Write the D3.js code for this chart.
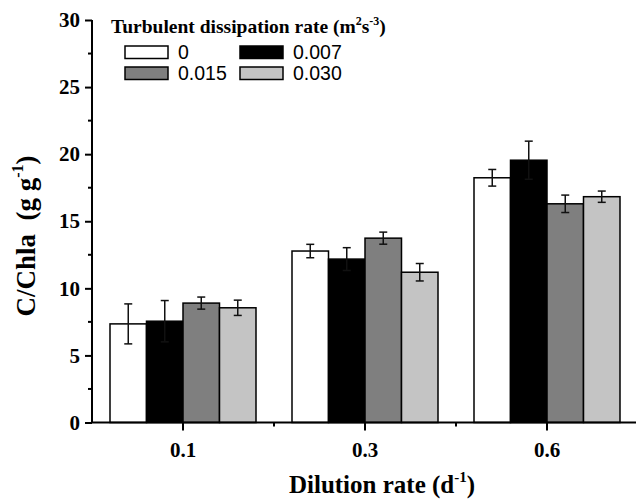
<!DOCTYPE html>
<html><head><meta charset="utf-8">
<script src="https://cdn.jsdelivr.net/npm/d3@7"></script>
<style>body{margin:0;background:#fff}svg{display:block}</style>
</head><body>
<svg id="c" width="636" height="499"></svg>
<script>
const categories = ["0.1", "0.3", "0.6"];
const seriesNames = ["0", "0.007", "0.015", "0.030"];
const values = [
  [7.35, 12.78, 18.24],
  [7.55, 12.18, 19.55],
  [8.9, 13.74, 16.3],
  [8.55, 11.2, 16.83]
];
const errors = [
  [1.49, 0.5, 0.62],
  [1.54, 0.85, 1.42],
  [0.45, 0.45, 0.65],
  [0.57, 0.65, 0.42]
];
const yTicks = [0, 5, 10, 15, 20, 25, 30];
const fills = ["#ffffff", "#000000", "#7f7f7f", "#c4c4c4"];

(function () {
const svg = d3.select("#c");
const mLeft = 92, mRight = 638, mTop = 20, mBottom = 422.5;
const y = d3.scaleLinear().domain([0, 30]).range([mBottom, mTop]);
const x = d3.scaleBand().domain(categories).range([mLeft, mRight]).padding(0);
const inner = d3.scaleBand().domain(d3.range(4)).range([0, 146]);
const off = (x.bandwidth() - 146) / 2;
const serif = "'Liberation Serif','Times New Roman',serif";
const sans = "'Liberation Sans',Arial,sans-serif";

// bars
seriesNames.forEach((s, si) => {
  categories.forEach((c, ci) => {
    const bx = x(c) + off + inner(si);
    const v = values[si][ci], e = errors[si][ci];
    svg.append("rect").attr("x", bx).attr("y", y(v))
      .attr("width", inner.bandwidth()).attr("height", y(0) - y(v))
      .attr("fill", fills[si]).attr("stroke", "#000").attr("stroke-width", 1.5);
    const cx = bx + inner.bandwidth() / 2;
    const g = svg.append("g").attr("stroke", "#111").attr("stroke-width", 1.5);
    g.append("line").attr("x1", cx).attr("x2", cx).attr("y1", y(v + e)).attr("y2", y(v - e));
    g.append("line").attr("x1", cx - 4).attr("x2", cx + 4).attr("y1", y(v + e)).attr("y2", y(v + e));
    g.append("line").attr("x1", cx - 4).attr("x2", cx + 4).attr("y1", y(v - e)).attr("y2", y(v - e));
  });
});

// y axis
const yAxis = svg.append("g").attr("transform", `translate(${mLeft},0)`)
  .call(d3.axisLeft(y).tickValues(yTicks).tickSize(7).tickPadding(5).tickFormat(d3.format("d")));
yAxis.select(".domain").attr("stroke-width", 2).attr("d", `M0,${mTop}V${mBottom}`);
yAxis.selectAll(".tick line").attr("stroke-width", 2);
yAxis.selectAll("text").attr("font-family", serif).attr("font-weight", "bold").attr("font-size", 21).attr("fill", "#000");
svg.append("g").selectAll("line").data(d3.range(2.5, 30, 5)).join("line")
  .attr("x1", mLeft - 4).attr("x2", mLeft).attr("y1", d => y(d)).attr("y2", d => y(d))
  .attr("stroke", "#000").attr("stroke-width", 2);

// x axis
const xAxis = svg.append("g").attr("transform", `translate(0,${mBottom})`)
  .call(d3.axisBottom(x).tickSize(8));
xAxis.select(".domain").attr("stroke-width", 2).attr("d", `M${mLeft},0H${mRight}`);
xAxis.selectAll(".tick line").attr("stroke-width", 2);
xAxis.selectAll("text").attr("y", 34).attr("dy", 0)
  .attr("font-family", serif).attr("font-weight", "bold").attr("font-size", 21).attr("fill", "#000");
svg.append("g").selectAll("line").data(categories).join("line")
  .attr("x1", d => x(d) + x.bandwidth()).attr("x2", d => x(d) + x.bandwidth())
  .attr("y1", mBottom).attr("y2", mBottom + 4).attr("stroke", "#000").attr("stroke-width", 2);

// axis titles
const xt = svg.append("text").attr("x", 382).attr("y", 493).attr("text-anchor", "middle")
  .attr("font-family", serif).attr("font-weight", "bold").attr("font-size", 25);
xt.append("tspan").text("Dilution rate (d");
xt.append("tspan").text("-1").attr("font-size", 15).attr("dy", -11);
xt.append("tspan").text(")").attr("dy", 11);

const yt = svg.append("text").attr("transform", "translate(35,236) rotate(-90)").attr("text-anchor", "middle")
  .attr("font-family", serif).attr("font-weight", "bold").attr("font-size", 27)
  .style("white-space", "pre");
yt.append("tspan").text("C/Chla  (g g");
yt.append("tspan").text("-1").attr("font-size", 16).attr("dy", -12);
yt.append("tspan").text(")").attr("dy", 12);

// legend
const lt = svg.append("text").attr("x", 111).attr("y", 33)
  .attr("font-family", serif).attr("font-weight", "bold").attr("font-size", 19.5);
lt.append("tspan").text("Turbulent dissipation rate (m");
lt.append("tspan").text("2").attr("font-size", 12).attr("dy", -8);
lt.append("tspan").text("s").attr("font-size", 19.5).attr("dy", 8);
lt.append("tspan").text("-3").attr("font-size", 12).attr("dy", -8);
lt.append("tspan").text(")").attr("font-size", 19.5).attr("dy", 8);

const legPos = [[125, 46], [240, 46], [125, 67], [240, 67]];
seriesNames.forEach((s, i) => {
  const [lx, ly] = legPos[i];
  svg.append("rect").attr("x", lx).attr("y", ly).attr("width", 43).attr("height", 12.5)
    .attr("fill", fills[i]).attr("stroke", "#000").attr("stroke-width", 1.5);
  svg.append("text").attr("x", lx + 53).attr("y", ly + 13).text(s)
    .attr("font-family", sans).attr("font-size", 19.5).attr("fill", "#000");
});
})();
</script>
</body></html>
